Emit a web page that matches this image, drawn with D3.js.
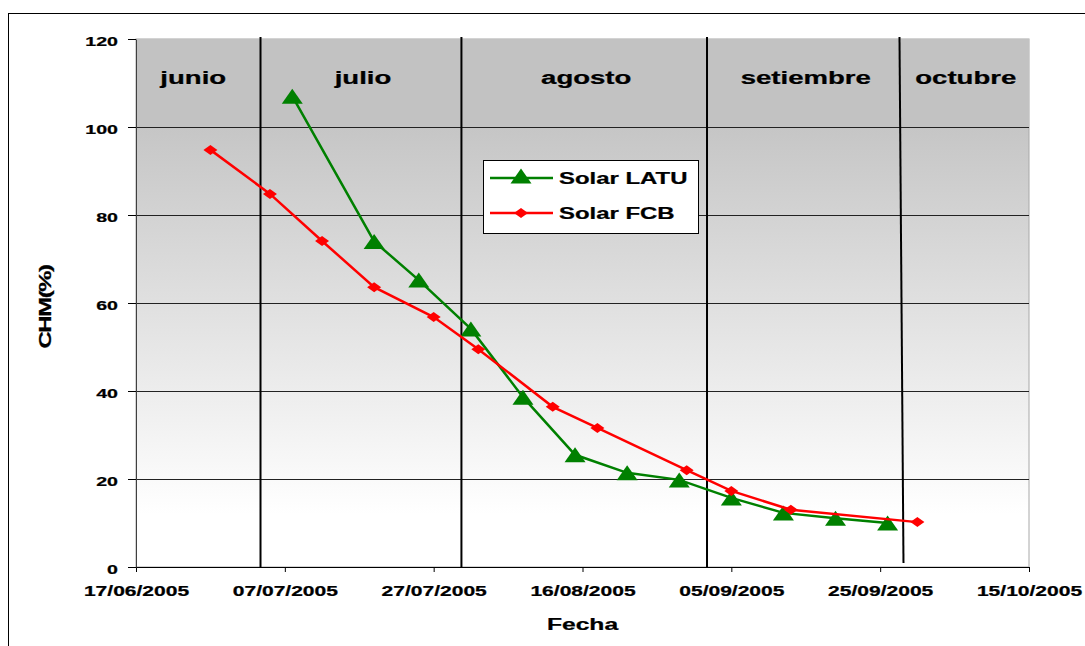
<!DOCTYPE html>
<html>
<head>
<meta charset="utf-8">
<script src="https://cdn.jsdelivr.net/npm/d3@7"></script>
<style>
	body { margin: 0; background: #fff; }
	svg { display: block; }
	text { font-family: "Liberation Sans", Arial, sans-serif; font-weight: bold; fill: #000; stroke: #000; stroke-width: 0.25px; }
</style>
</head>
<body>
<div id="chart"></div>
<script>

// === Data === //

var xTickLabels = ['17/06/2005', '07/07/2005', '27/07/2005', '16/08/2005', '05/09/2005', '25/09/2005', '15/10/2005'];
var yTickValues = [0, 20, 40, 60, 80, 100, 120];

var latuDates = ['08/07/2005', '19/07/2005', '25/07/2005', '01/08/2005', '08/08/2005', '15/08/2005',
	'22/08/2005', '29/08/2005', '05/09/2005', '12/09/2005', '19/09/2005', '26/09/2005'];
var latuValues = [107, 74, 65.2, 54.1, 38.6, 25.5, 21.4, 19.8, 15.7, 12.3, 11.1, 10.0];

var fcbDates = ['27/06/2005', '05/07/2005', '12/07/2005', '19/07/2005', '27/07/2005', '02/08/2005',
	'12/08/2005', '18/08/2005', '30/08/2005', '05/09/2005', '13/09/2005', '30/09/2005'];
var fcbValues = [94.8, 84.8, 74.1, 63.6, 56.8, 49.5, 36.4, 31.6, 22.0, 17.3, 13.0, 10.2];

var monthNames = ['junio', 'julio', 'agosto', 'setiembre', 'octubre'];
var monthBreaks = ['04/07/2005', '31/07/2005', '02/09/2005', '28/09/2005']; // hand drawn dividers

var seriesNames = ['Solar LATU', 'Solar FCB'];


// === Globals === //

var width = 1085, height = 646;
var plot = { left: 136, right: 1029, top: 39, bottom: 567 };
var stretch = 1.45; // the original fonts are drawn wide

var parse = d3.timeParse('%d/%m/%Y');

var x = d3.scaleTime()
	.domain([parse(xTickLabels[0]), parse(xTickLabels[xTickLabels.length - 1])])
	.range([plot.left, plot.right]);

var y = d3.scaleLinear()
	.domain([0, 120])
	.range([plot.bottom, plot.top]);

var svg = d3.select('#chart').append('svg')
	.attr('width', width)
	.attr('height', height);


// === Helpers === //

function wideText(g, str, tx, ty, size, anchor, rotate) {

	return g.append('text')
		.attr('transform', 'translate(' + tx + ',' + ty + ')' + (rotate ? ' rotate(' + rotate + ')' : '') + ' scale(' + stretch + ',1)')
		.attr('text-anchor', anchor || 'middle')
		.style('font-size', size + 'px')
		.text(str);

} // wideText()

function triangle(g, cx, cy, w, h) {

	g.append('path')
		.attr('d', 'M' + cx + ',' + (cy - h / 2) + 'L' + (cx + w / 2) + ',' + (cy + h / 2) + 'L' + (cx - w / 2) + ',' + (cy + h / 2) + 'Z')
		.attr('fill', '#008000');

} // triangle()

function diamond(g, cx, cy, w, h) {

	g.append('path')
		.attr('d', 'M' + cx + ',' + (cy - h / 2) + 'L' + (cx + w / 2) + ',' + cy + 'L' + cx + ',' + (cy + h / 2) + 'L' + (cx - w / 2) + ',' + cy + 'Z')
		.attr('fill', '#ff0000');

} // diamond()


// === Frame and plot background === //

svg.append('rect')
	.attr('x', 8.5).attr('y', 13.5)
	.attr('width', 1100).attr('height', 700)
	.attr('fill', '#fff')
	.attr('stroke', '#000');

var defs = svg.append('defs');
var grad = defs.append('linearGradient')
	.attr('id', 'bg')
	.attr('x1', 0).attr('y1', 0).attr('x2', 0).attr('y2', 1);
grad.append('stop').attr('offset', '0%').attr('stop-color', '#c0c0c0');
grad.append('stop').attr('offset', '17%').attr('stop-color', '#c6c6c6');
grad.append('stop').attr('offset', '90%').attr('stop-color', '#ffffff');
grad.append('stop').attr('offset', '100%').attr('stop-color', '#ffffff');

svg.append('rect')
	.attr('x', plot.left).attr('y', plot.top)
	.attr('width', plot.right - plot.left).attr('height', plot.bottom - plot.top)
	.attr('fill', 'url(#bg)')
	.attr('stroke', '#a8a8a8');

// grey band that holds the month names
svg.append('rect')
	.attr('x', plot.left).attr('y', plot.top)
	.attr('width', plot.right - plot.left).attr('height', y(100) - plot.top)
	.attr('fill', '#c2c2c2');


// === Gridlines === //

svg.append('g')
	.selectAll('line')
	.data(yTickValues.filter(function(d) { return d > 0 && d < 120; }))
	.enter().append('line')
	.attr('x1', plot.left).attr('x2', plot.right)
	.attr('y1', function(d) { return Math.round(y(d)) + 0.5; })
	.attr('y2', function(d) { return Math.round(y(d)) + 0.5; })
	.attr('stroke', '#222')
	.attr('stroke-width', 1);


// === Month dividers and names === //

var breaks = monthBreaks.map(function(d) { return x(parse(d)); });

svg.append('g')
	.selectAll('line')
	.data(breaks)
	.enter().append('line')
	.attr('x1', function(d, i) { return i === 3 ? d - 3 : d - 2; })
	.attr('x2', function(d, i) { return i === 3 ? d + 1 : d - 2; })
	.attr('y1', plot.top - 2)
	.attr('y2', function(d, i) { return i === 3 ? plot.bottom - 4 : plot.bottom; })
	.attr('stroke', '#000')
	.attr('stroke-width', 2);

var edges = [plot.left].concat(breaks, [plot.right]);
var monthG = svg.append('g');
monthNames.forEach(function(m, i) {
	wideText(monthG, m, (edges[i] + edges[i + 1]) / 2 - (i === 0 ? 6 : 0), 84, 19);
});


// === Axes === //

var xAxis = svg.append('g')
	.attr('transform', 'translate(0,' + plot.bottom + ')')
	.call(d3.axisBottom(x)
		.tickValues(xTickLabels.map(parse))
		.tickFormat(d3.timeFormat('%d/%m/%Y'))
		.tickSize(5)
		.tickSizeOuter(0));

xAxis.select('.domain').attr('stroke', '#000');
xAxis.selectAll('.tick line').attr('stroke', '#000');
xAxis.selectAll('.tick text')
	.attr('y', 0).attr('dy', 0)
	.attr('transform', 'translate(0,29) scale(' + stretch + ',1)')
	.style('font-size', '14.5px')
	.style('font-family', '"Liberation Sans", Arial, sans-serif');

var yAxis = svg.append('g')
	.attr('transform', 'translate(' + plot.left + ',0)')
	.call(d3.axisLeft(y)
		.tickValues(yTickValues)
		.tickSize(8)
		.tickSizeOuter(0));

yAxis.select('.domain').attr('stroke', '#404040');
yAxis.selectAll('.tick line').attr('stroke', '#000');
yAxis.selectAll('.tick text')
	.attr('x', 0).attr('dy', 0)
	.attr('transform', 'translate(-18,6) scale(' + stretch + ',1)')
	.style('font-size', '13.5px')
	.style('font-family', '"Liberation Sans", Arial, sans-serif');

var titles = svg.append('g');
wideText(titles, 'Fecha', (plot.left + plot.right) / 2, 630, 17);
wideText(titles, 'CHM(%)', 51, 307, 16.5, 'middle', -90).attr('letter-spacing', -1);


// === Series === //

var line = d3.line()
	.x(function(d) { return x(d.date); })
	.y(function(d) { return y(d.value); });

var latu = latuDates.map(function(d, i) { return { date: parse(d), value: latuValues[i] }; });
var fcb = fcbDates.map(function(d, i) { return { date: parse(d), value: fcbValues[i] }; });

var series = svg.append('g');

series.append('path')
	.datum(latu)
	.attr('d', line)
	.attr('fill', 'none')
	.attr('stroke', '#008000')
	.attr('stroke-width', 2.5);

latu.forEach(function(d) { triangle(series, x(d.date), y(d.value), 21, 15); });

series.append('path')
	.datum(fcb)
	.attr('d', line)
	.attr('fill', 'none')
	.attr('stroke', '#ff0000')
	.attr('stroke-width', 2.5);

fcb.forEach(function(d) { diamond(series, x(d.date), y(d.value), 14, 10); });


// === Legend === //

var legend = svg.append('g');

legend.append('rect')
	.attr('x', 483.5).attr('y', 160.5)
	.attr('width', 215).attr('height', 73)
	.attr('fill', '#fff')
	.attr('stroke', '#000');

[178, 213].forEach(function(ly, i) {

	legend.append('line')
		.attr('x1', 490).attr('x2', 553)
		.attr('y1', ly).attr('y2', ly)
		.attr('stroke', i === 0 ? '#008000' : '#ff0000')
		.attr('stroke-width', 2.5);

	if (i === 0) triangle(legend, 521, ly - 2, 21, 15);
	else diamond(legend, 521, ly, 14, 10);

	wideText(legend, seriesNames[i], 559, ly + 6, 16.5, 'start');

});

</script>
</body>
</html>
